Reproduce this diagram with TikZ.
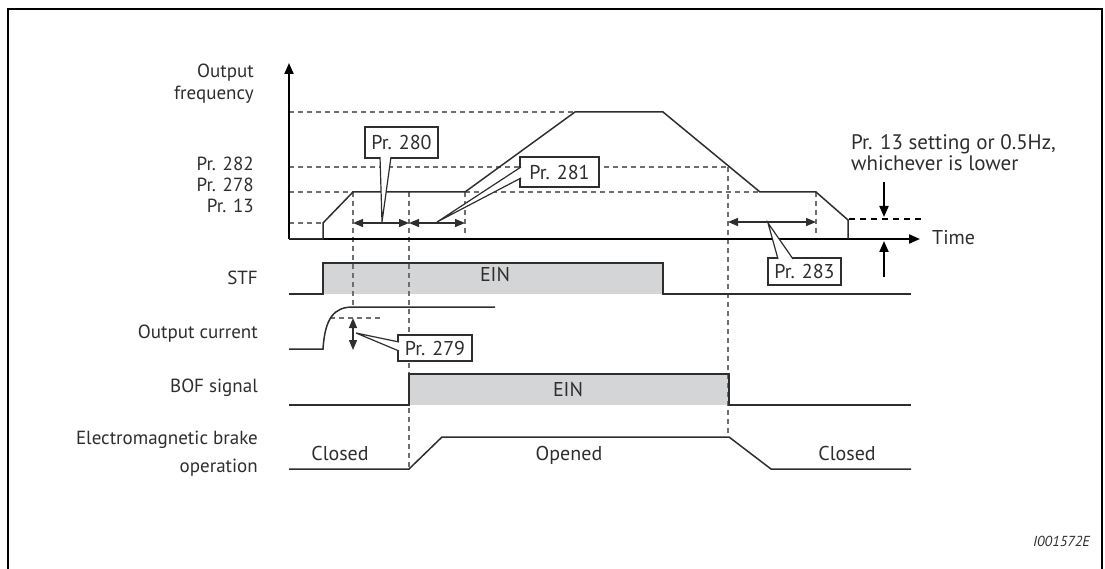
\documentclass[tikz,border=0pt]{standalone}
\usepackage{fontspec}
\setmainfont{PT Sans}
\usetikzlibrary{arrows.meta}
\definecolor{sigfill}{HTML}{D4D5D6}
\definecolor{ink}{HTML}{2E2E2E}
\definecolor{dashgray}{HTML}{6E6E6E}
\begin{document}
\begin{tikzpicture}[x=1pt,y=-1pt,
  txt/.style={font=\fontsize{20}{22}\selectfont, inner sep=0pt, text=ink},
  lbl/.style={font=\fontsize{19}{22}\selectfont, inner sep=0pt, text=ink, anchor=base east},
  note/.style={font=\fontsize{21}{24}\selectfont, inner sep=0pt, text=ink, anchor=base west},
  sig/.style={line width=1.5pt, draw=ink, line join=miter},
  axis/.style={line width=2pt, draw=black},
  dsh/.style={line width=1.2pt, draw=dashgray, dash pattern=on 5pt off 4pt},
  bdsh/.style={line width=1.5pt, draw=black, dash pattern=on 6pt off 5pt},
  tipa/.style={-{Triangle[length=11pt,width=9pt]}},
  dtip/.style={{Triangle[length=10pt,width=8pt]}-{Triangle[length=10pt,width=8pt]}, line width=1.3pt, draw=ink},
  callbox/.style={draw=ink, line width=1.3pt, fill=white, font=\fontsize{20}{22}\selectfont, text=ink, inner xsep=4pt, inner ysep=0pt, minimum height=28pt, text depth=0pt},
  ptr/.style={draw=ink, line width=1.2pt, fill=white, line join=miter}
]
\useasboundingbox (0,0) rectangle (1105,569);
% frame
\draw[line width=2.5pt] (8,575) -- (8,9) -- (1102,9) -- (1102,575);

% named coordinates
\coordinate (O) at (289,239);
\coordinate (Ytop) at (289,63);
\coordinate (Xend) at (920,239);

% signal fills
\fill[sigfill] (323,294) rectangle (663,263);
\fill[sigfill] (409,405) rectangle (729,374);

% dashed frequency levels
\draw[dsh] (289,112) -- (575,112);
\draw[dsh] (289,167) -- (728,167);
\draw[dsh] (289,192) -- (353,192);
\draw[dsh] (465,192) -- (760,192);
\draw[dsh] (289,223) -- (323,223);
% dashed verticals
\draw[dsh] (353,192) -- (353,307);
\draw[dsh] (409,192) -- (409,469);
\draw[dsh] (465,192) -- (465,233);
\draw[dsh] (728,167) -- (728,437);
\draw[dsh] (816,192) -- (816,233);
\draw[dsh] (330,318) -- (380,318);
% note dashed level
\draw[bdsh] (849,219) -- (922,219);

% axes
\draw[axis,tipa] (O) -- (Ytop);
\draw[axis,tipa] (O) -- (Xend);
\node[txt, anchor=base west] (time) at (932,245) {Time};

% frequency curve
\draw[sig] (O) -- (323,239) -- (323,223) -- (353,192) -- (465,192) -- (575,112) -- (663,112) -- (760,192) -- (816,192) -- (848,220) -- (848,239);

% interval arrows
\coordinate (a1) at (353,223); \coordinate (a2) at (409,223); \coordinate (a3) at (465,223);
\coordinate (b1) at (728,222); \coordinate (b2) at (816,222);
\draw[dtip] (a1) -- (a2);
\draw[dtip] (a2) -- (a3);
\draw[dtip] (b1) -- (b2);

% STF
\draw[sig] (289,294) -- (323,294) -- (323,263) -- (663,263) -- (663,294) -- (911,294);
\node[txt, anchor=base] (ein1) at (495,282) {EIN};

% output current
\draw[sig] (289,349) -- (323,349) .. controls (325,318) and (334,307) .. (353,307) -- (495,307);
\coordinate (c1) at (353,318); \coordinate (c2) at (353,350);
\draw[dtip] (c1) -- (c2);

% BOF
\draw[sig] (289,405) -- (409,405) -- (409,374) -- (729,374) -- (729,405) -- (911,405);
\node[txt, anchor=base] (ein2) at (568,396) {EIN};

% brake
\draw[sig] (289,469) -- (409,469) -- (442,437) -- (729,437) -- (771,469) -- (911,469);
\node[txt, anchor=base] (cl1) at (340,460) {Closed};
\node[txt, anchor=base] (op) at (569,460) {Opened};
\node[txt, anchor=base] (cl2) at (847,460) {Closed};

% left labels
\node[lbl] (l1) at (254,78) {Output};
\node[lbl] (l2) at (254,100) {frequency};
\node[lbl] (l3) at (254,171) {Pr. 282};
\node[lbl] (l4) at (254,192) {Pr. 278};
\node[lbl] (l5) at (254,213) {Pr. 13};
\node[lbl] (l6) at (258,284) {STF};
\node[lbl] (l7) at (258,338) {Output current};
\node[lbl] (l8) at (258,392) {BOF signal};
\node[lbl] (l9) at (258,444) {Electromagnetic brake};
\node[lbl] (l10) at (258,472) {operation};

% note
\node[note] (n1) at (851,150) {Pr. 13 setting or 0.5Hz,};
\node[note] (n2) at (851,171) {whichever is lower};
\coordinate (d1) at (884,182); \coordinate (d2) at (884,217);
\coordinate (u1) at (884,277); \coordinate (u2) at (884,241);
\draw[line width=2pt, tipa] (d1) -- (d2);
\draw[line width=2pt, tipa] (u1) -- (u2);

% callouts
\node[callbox, anchor=center, minimum width=73pt, minimum height=31pt] (p280) at (401.5,142.5) {Pr. 280};
\draw[ptr] (380,157) -- (382,222) -- (391,157);
\node[callbox, anchor=center, minimum width=79pt, minimum height=30pt] (p281) at (559.5,172) {Pr. 281};
\draw[ptr] (521,167) -- (437,222) -- (521,178);
\node[callbox, anchor=center, minimum width=74pt, minimum height=26pt] (p279) at (435,348) {Pr. 279};
\draw[ptr] (399,342) -- (356,333) -- (399,351);
\node[callbox, anchor=center, minimum width=73pt, minimum height=27pt] (p283) at (804.5,271.5) {Pr. 283};
\draw[ptr] (778,259) -- (768,223) -- (793,259);

% id
\node[font=\fontsize{14.5}{16}\selectfont\itshape, inner sep=0pt, anchor=base east, text=ink] (id) at (1090,546) {I001572E};
\end{tikzpicture}
\end{document}
